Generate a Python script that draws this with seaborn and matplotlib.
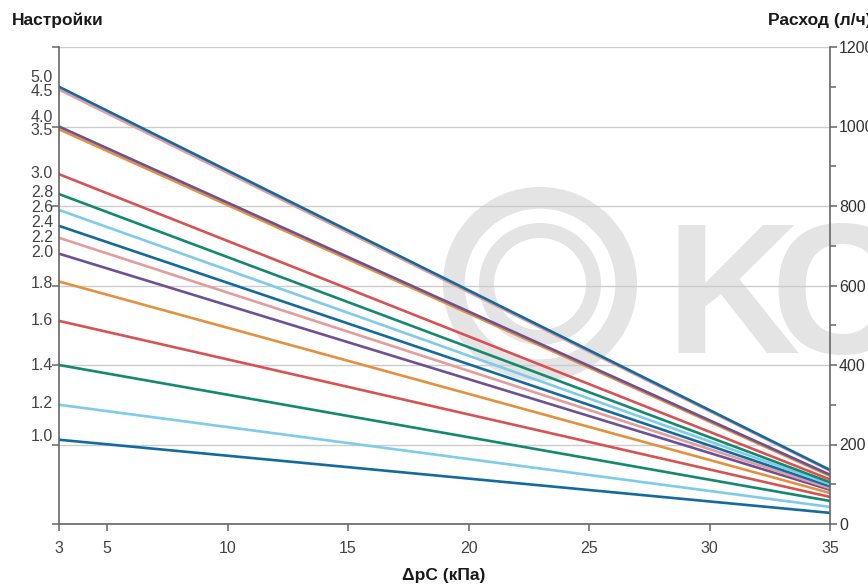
import matplotlib
matplotlib.use("Agg")
import matplotlib.pyplot as plt
import seaborn as sns
import pandas as pd
from matplotlib.patches import Circle
from matplotlib.ticker import FixedLocator

# ---------------- data ----------------
settings = ["1.0", "1.2", "1.4", "1.6", "1.8", "2.0", "2.2", "2.4",
            "2.6", "2.8", "3.0", "3.5", "4.0", "4.5", "5.0"]
flow_at_start = [212, 300, 400, 511, 610, 680, 720, 750,
                 790, 830, 880, 993, 1000, 1093, 1100]
flow_at_end = [28, 43, 58, 68, 78, 86, 90, 95,
               100, 105, 112, 121, 124, 134, 136]
setting_label_flow = [221, 302, 400, 513, 606, 684, 722, 758,
                      795, 834, 883, 990, 1022, 1088, 1123]
dp_range = [3, 35]
x_ticks = [3, 5, 10, 15, 20, 25, 30, 35]
flow_ticks = [0, 200, 400, 600, 800, 1000, 1200]
flow_minor_ticks = [100, 300, 500, 700, 900, 1100]
color_cycle = ["#136a9e", "#e59c9c", "#6c5295", "#e3913f",
               "#d85252", "#13896d", "#7fcbea"]

rows = []
for s, a, b in zip(settings, flow_at_start, flow_at_end):
    rows.append({"dp": dp_range[0], "flow": a, "setting": s})
    rows.append({"dp": dp_range[1], "flow": b, "setting": s})
df = pd.DataFrame(rows)
# color cycle goes from highest setting down
pal = {}
for i, s in enumerate(settings[::-1]):
    pal[s] = color_cycle[i % len(color_cycle)]

# ---------------- style ----------------
sns.set_style("white")
plt.rcParams["font.family"] = ["Liberation Sans", "DejaVu Sans"]

W, H = 868, 585
fig = plt.figure(figsize=(W / 100, H / 100), dpi=100)
ax = fig.add_axes([59 / W, 1 - 524 / H, 771 / W, 477 / H])

# watermark (behind grid and lines)
wm = "#e4e4e4"
ax.add_patch(Circle((5.40, (H - 284) / 100), 0.862, transform=fig.dpi_scale_trans,
                    fill=False, ec=wm, lw=15.6, zorder=0.1, clip_on=False))
ax.add_patch(Circle((5.40, (H - 284) / 100), 0.535, transform=fig.dpi_scale_trans,
                    fill=False, ec=wm, lw=10.8, zorder=0.1, clip_on=False))
ax.text(6.66, (H - 353) / 100, "K", transform=fig.dpi_scale_trans, fontsize=134,
        fontweight="bold", color=wm, ha="left", va="baseline", zorder=0.1)
ax.text(7.70, (H - 353) / 100, "C", transform=fig.dpi_scale_trans, fontsize=134,
        fontweight="bold", color=wm, ha="left", va="baseline", zorder=0.1,
        clip_on=False)

sns.lineplot(data=df, x="dp", y="flow", hue="setting", hue_order=settings,
             palette=pal, linewidth=1.9, legend=False, ax=ax, zorder=2)

ax.set_xlim(dp_range[0], dp_range[1])
ax.set_ylim(flow_ticks[0], flow_ticks[-1])
ax.set_xticks(x_ticks)
ax.set_xticklabels([str(t) for t in x_ticks])
ax.yaxis.set_major_locator(FixedLocator(flow_ticks))
ax.yaxis.set_minor_locator(FixedLocator(flow_minor_ticks))
ax.set_yticklabels([str(t) for t in flow_ticks])
ax.set_xlabel("")
ax.set_ylabel("")

ax.set_axisbelow(True)
ax.grid(axis="y", which="major", color="#cccccc", linewidth=1.0, zorder=0.5)
ax.grid(axis="x", visible=False)

spine_c = "#666666"
for side in ["left", "bottom", "right"]:
    ax.spines[side].set_visible(True)
    ax.spines[side].set_color(spine_c)
    ax.spines[side].set_linewidth(1.2)
ax.spines["top"].set_visible(False)

tick_fs = 11.5
ax.tick_params(axis="y", which="major", direction="out", left=True, right=True,
               labelleft=False, labelright=True, length=5, width=1.1,
               color=spine_c, labelsize=tick_fs, labelcolor="#333333", pad=1.5)
ax.tick_params(axis="y", which="minor", direction="out", left=False, right=True,
               length=4, width=1.1, color=spine_c)
ax.tick_params(axis="x", which="major", direction="out", bottom=True, length=5,
               width=1.1, color=spine_c, labelsize=tick_fs, labelcolor="#444444",
               pad=7)

# settings labels on the left axis
for s, yv in zip(settings, setting_label_flow):
    ax.text(-6 / 771, yv, s, transform=ax.get_yaxis_transform(), ha="right",
            va="center", fontsize=tick_fs, color="#444444", clip_on=False)

title_c = "#1a1a1a"
fig.text(12 / W, 1 - 25 / H, "Настройки", fontsize=12.5, fontweight="bold",
         color=title_c, ha="left", va="baseline")
fig.text(768 / W, 1 - 25 / H, "Расход (л/ч)", fontsize=12.5, fontweight="bold",
         color=title_c, ha="left", va="baseline")
fig.text(444 / W, 1 - 580 / H, "ΔpC (кПа)", fontsize=12.5, fontweight="bold",
         color=title_c, ha="center", va="baseline")

fig.savefig("out.png", dpi=100)
